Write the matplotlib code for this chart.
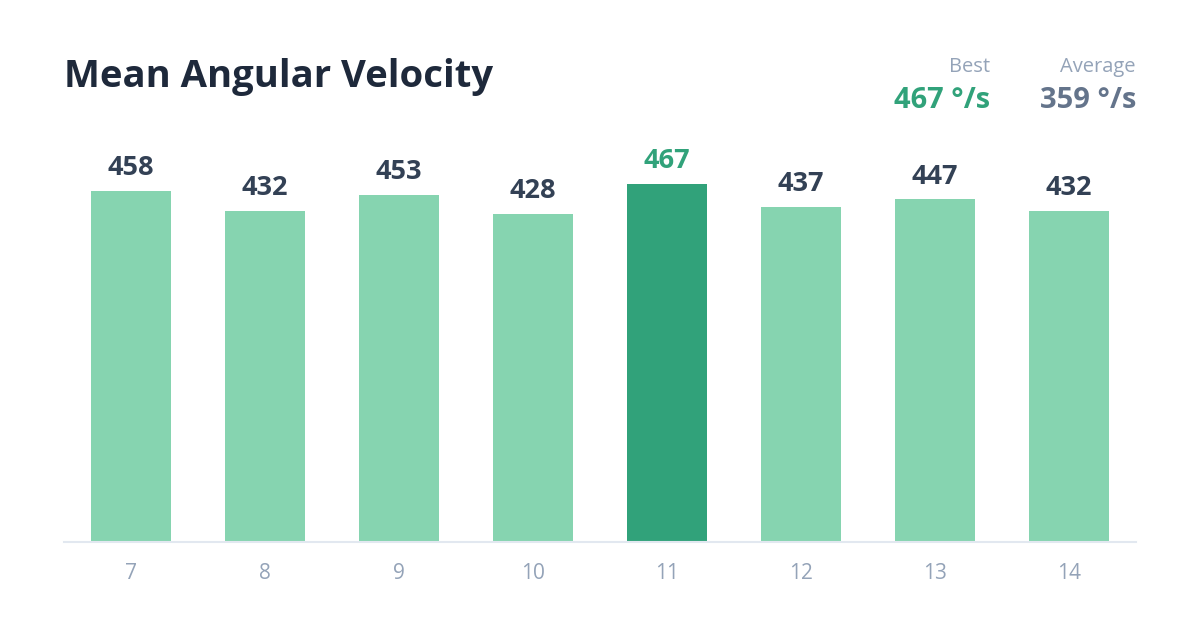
import matplotlib
matplotlib.use('Agg')
import matplotlib.pyplot as plt

categories = ['7', '8', '9', '10', '11', '12', '13', '14']
values = [458, 432, 453, 428, 467, 437, 447, 432]
best_value = 467
average_value = 359
unit = '°/s'

plt.rcParams['font.family'] = ['Open Sans', 'DejaVu Sans']

BAR = '#86d4b0'
BAR_HI = '#31a27a'
DARK = '#1e293b'
LABEL = '#334155'
MUTED = '#94a3b8'

fig = plt.figure(figsize=(12, 6.2), dpi=100)
fig.patch.set_facecolor('white')
# axes: x 64..1136 px, y 130..542 px (from top)
ax = fig.add_axes([64 / 1200, (620 - 542) / 620, 1072 / 1200, 412 / 620])

best_idx = values.index(max(values))
colors = [BAR_HI if i == best_idx else BAR for i in range(len(values))]
x = list(range(len(categories)))
bars = ax.bar(x, values, width=0.6, color=colors, zorder=2)

for i, b in enumerate(bars):
    ax.annotate(str(values[i]), (b.get_x() + b.get_width() / 2, b.get_height()),
                xytext=(0, 7), textcoords='offset points', ha='center', va='bottom',
                fontsize=19.5, fontweight='bold',
                color=BAR_HI if i == best_idx else LABEL)

ax.set_xlim(-0.5, len(categories) - 0.5)
ax.set_ylim(0, 537.6)
ax.set_xticks(x)
ax.set_xticklabels(categories)
ax.tick_params(axis='x', length=0, pad=15, labelsize=15, labelcolor=MUTED)
ax.set_yticks([])
for s in ['top', 'right', 'left']:
    ax.spines[s].set_visible(False)
ax.spines['bottom'].set_color('#e2e8f0')
ax.spines['bottom'].set_linewidth(1.5)

# title and summary stats
fig.text(64 / 1200, 1 - 77 / 620, 'Mean Angular Velocity', ha='left', va='center',
         fontsize=27.5, fontweight='bold', color=DARK)
fig.text(990 / 1200, 1 - 67 / 620, 'Best', ha='right', va='center',
         fontsize=14.5, color=MUTED)
fig.text(990 / 1200, 1 - 100 / 620, f'{best_value} {unit}', ha='right', va='center',
         fontsize=21, fontweight='bold', color=BAR_HI)
fig.text(1136 / 1200, 1 - 67 / 620, 'Average', ha='right', va='center',
         fontsize=14.5, color=MUTED)
fig.text(1136 / 1200, 1 - 100 / 620, f'{average_value} {unit}', ha='right', va='center',
         fontsize=21, fontweight='bold', color='#64748b')

fig.savefig('out.png', dpi=100, facecolor='white')
